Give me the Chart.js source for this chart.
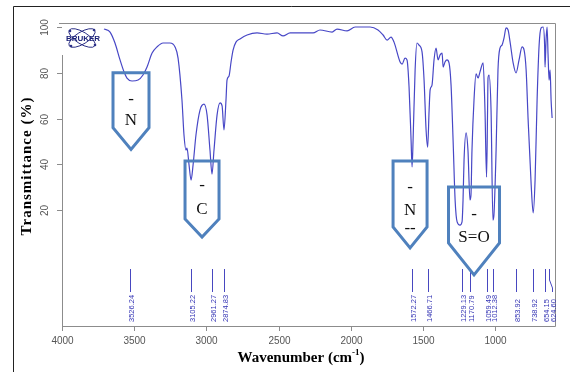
<!DOCTYPE html>
<html>
<head>
<meta charset="utf-8">
<script src="https://cdn.jsdelivr.net/npm/chart.js@4.4.0/dist/chart.umd.min.js"></script>
<style>
  html, body { margin: 0; padding: 0; background: #fff; }
  #wrap { width: 570px; height: 372px; position: relative; }
</style>
</head>
<body>
<div id="wrap"><canvas id="irChart" width="570" height="372"></canvas></div>
<script>
// spectrum (cm-1 / %T)
const wavenumbers = [
  3709, 3667, 3633, 3598, 3570, 3550, 3515, 3473, 3439, 3411,
  3376, 3342, 3300, 3252, 3217, 3196, 3169, 3155, 3141, 3134,
  3120, 3106, 3092, 3072, 3044, 3016, 2995, 2975, 2961, 2947,
  2926, 2905, 2891, 2878, 2864, 2857, 2843, 2829, 2815, 2795,
  2767, 2718, 2649, 2580, 2510, 2469, 2420, 2351, 2261, 2213,
  2129, 2095, 2025, 1970, 1866, 1811, 1776, 1748, 1721, 1700,
  1658, 1644, 1624, 1610, 1596, 1582, 1575, 1568, 1554, 1541,
  1527, 1506, 1492, 1478, 1467, 1457, 1450, 1437, 1423, 1409,
  1395, 1381, 1367, 1360, 1347, 1333, 1319, 1305, 1291, 1277,
  1263, 1243, 1229, 1222, 1215, 1201, 1188, 1174, 1167, 1160,
  1146, 1132, 1118, 1105, 1083, 1070, 1059, 1052, 1049, 1042,
  1028, 1015, 1008, 993, 980, 966, 952, 938, 924, 910,
  896, 875, 855, 834, 813, 799, 785, 771, 750, 736,
  723, 709, 695, 681, 667, 657, 654, 647, 640, 633,
  626, 619, 612, 605
];
const transmittance = [
  99.1, 97.8, 93.0, 85.6, 80.3, 77.7, 76.4, 76.8, 79.0, 82.5,
  88.6, 91.3, 93.0, 93.0, 91.3, 86.4, 68.1, 52.8, 46.2, 47.1,
  39.7, 33.1, 39.7, 52.8, 63.7, 66.3, 61.5, 46.2, 35.7, 46.2,
  61.5, 66.8, 65.5, 55.0, 68.1, 76.8, 78.6, 84.7, 89.9, 93.4,
  94.8, 96.5, 97.4, 96.9, 97.4, 96.1, 97.4, 97.4, 97.4, 98.7,
  97.8, 99.1, 98.3, 100, 100, 98.7, 96.5, 94.3, 95.6, 93.4,
  84.7, 83.8, 86.4, 85.6, 73.8, 50.6, 38.8, 50.6, 81.2, 93.0,
  92.1, 89.1, 76.8, 55.0, 47.5, 63.7, 72.5, 74.6, 85.6, 90.8,
  85.6, 87.8, 88.6, 82.5, 84.7, 85.6, 84.3, 74.6, 50.6, 24.4,
  14.8, 13.4, 14.8, 24.4, 41.9, 53.7, 46.2, 24.4, 26.6, 46.2,
  68.1, 79.5, 77.7, 80.3, 84.3, 63.7, 34.4, 63.7, 77.7, 79.0,
  63.7, 15.6, 17.8, 46.2, 81.2, 90.8, 92.1, 95.2, 99.6, 98.7,
  93.4, 84.3, 79.9, 85.6, 91.3, 89.9, 81.2, 59.3, 30.9, 18.7,
  33.1, 68.1, 92.1, 99.6, 100, 92.1, 82.5, 94.3, 100, 87.8,
  76.8, 81.2, 68.0, 60.2
];

const peakPositions = [3526.24, 3105.22, 2961.27, 2874.83, 1572.27, 1466.71, 1229.13,
  1170.79, 1059.49, 1012.38, 853.92, 738.92, 654.15, 624.60];
const peakLabels = ['3526.24', '3105.22', '2961.27', '2874.83', '1572.27', '1466.71', '1229.13',
  '1170.79', '1059.49', '1012.38', '853.92', '738.92', '654.15', '624.60'];

const xTicks = [4000, 3500, 3000, 2500, 2000, 1500, 1000];
const yTicks = [100, 80, 60, 40, 20];

const bandTexts = [['-', 'N'], ['-', 'C'], ['-', 'N', '--'], ['-', 'S=O']];

// callout boxes: centre wavenumber, top / shoulder / tip in %T, half width px
const boxes = [
  { wn: 3522, top: 80, side: 56, tip: 46.5, hw: 18, dy: [27, 48] },
  { wn: 3030, top: 41.4, side: 16.1, tip: 8.2, hw: 17, dy: [24, 48] },
  { wn: 1589, top: 41.4, side: 12.6, tip: 3.4, hw: 17, dy: [26, 49, 67] },
  { wn: 1146, top: 30.1, side: 5.6, tip: -8.4, hw: 25.5, dy: [28, 51] }
];

const points = wavenumbers.map((w, i) => ({ x: w, y: transmittance[i] }));

const irDecor = {
  id: 'irDecor',
  beforeDatasetsDraw(chart) {
    const { ctx, chartArea: a, scales: { x, y } } = chart;
    ctx.save();

    // outer border of the figure
    ctx.strokeStyle = '#222';
    ctx.lineWidth = 1;
    ctx.beginPath();
    ctx.moveTo(570, 6.5); ctx.lineTo(13.5, 6.5); ctx.lineTo(13.5, 372);
    ctx.stroke();

    // plot frame
    ctx.strokeStyle = '#8c8c8c';
    ctx.beginPath();
    ctx.moveTo(59, a.top + 0.5);
    ctx.lineTo(a.right + 0.5, a.top + 0.5);
    ctx.lineTo(a.right + 0.5, a.bottom + 0.5);
    ctx.lineTo(a.left + 0.5, a.bottom + 0.5);
    ctx.lineTo(a.left + 0.5, 55);
    ctx.stroke();

    // y ticks
    ctx.fillStyle = '#555';
    ctx.font = '10px "Liberation Sans", Arial, sans-serif';
    yTicks.forEach(v => {
      const py = Math.round(y.getPixelForValue(v)) + 0.5;
      ctx.beginPath();
      ctx.moveTo(a.left - 5, py); ctx.lineTo(a.left, py);
      ctx.stroke();
      ctx.save();
      ctx.translate(45, py);
      ctx.rotate(-Math.PI / 2);
      ctx.textAlign = 'center';
      ctx.textBaseline = 'middle';
      ctx.fillText(String(v), 0, 0);
      ctx.restore();
    });

    // x ticks
    ctx.textAlign = 'center';
    ctx.textBaseline = 'middle';
    xTicks.forEach(v => {
      const px = Math.round(x.getPixelForValue(v)) + 0.5;
      ctx.beginPath();
      ctx.moveTo(px, a.bottom); ctx.lineTo(px, a.bottom + 5);
      ctx.stroke();
      ctx.fillText(String(v), px, 341);
    });

    // peak markers
    ctx.strokeStyle = '#4848c0';
    ctx.fillStyle = '#3434b4';
    ctx.font = '7.5px "Liberation Sans", Arial, sans-serif';
    let prevLabelX = -100;
    peakPositions.forEach((p, i) => {
      const px = Math.round(x.getPixelForValue(p)) + 0.5;
      let lx = px;
      if (lx - prevLabelX < 6) lx = prevLabelX + 7;
      ctx.beginPath();
      ctx.moveTo(px, a.bottom - 57);
      if (lx !== px) {
        ctx.lineTo(px, a.bottom - 46);
        ctx.lineTo(lx, a.bottom - 38);
      }
      ctx.lineTo(lx, a.bottom - 34);
      ctx.stroke();
      ctx.save();
      ctx.translate(lx + 3, a.bottom - 4);
      ctx.rotate(-Math.PI / 2);
      ctx.textAlign = 'left';
      ctx.textBaseline = 'alphabetic';
      ctx.fillText(peakLabels[i], 0, 0);
      ctx.restore();
      prevLabelX = lx;
    });

    // axis titles
    ctx.fillStyle = '#000';
    ctx.font = 'bold 15px "Liberation Serif", "Times New Roman", serif';
    ctx.save();
    ctx.translate(27.5, 166);
    ctx.rotate(-Math.PI / 2);
    ctx.letterSpacing = '1px';
    ctx.textAlign = 'center';
    ctx.textBaseline = 'middle';
    ctx.fillText('Transmittance (%)', 0, 0);
    ctx.restore();

    const t1 = 'Wavenumber (cm', sup = '-1', t2 = ')';
    ctx.textBaseline = 'alphabetic';
    ctx.textAlign = 'left';
    const w1 = ctx.measureText(t1).width;
    ctx.font = 'bold 9px "Liberation Serif", "Times New Roman", serif';
    const ws = ctx.measureText(sup).width;
    ctx.font = 'bold 15px "Liberation Serif", "Times New Roman", serif';
    const w2 = ctx.measureText(t2).width;
    let sx = 301 - (w1 + ws + w2) / 2;
    ctx.fillText(t1, sx, 362);
    ctx.font = 'bold 9px "Liberation Serif", "Times New Roman", serif';
    ctx.fillText(sup, sx + w1, 355);
    ctx.font = 'bold 15px "Liberation Serif", "Times New Roman", serif';
    ctx.fillText(t2, sx + w1 + ws, 362);

    ctx.restore();
  },
  afterDatasetsDraw(chart) {
    const { ctx, scales: { x, y } } = chart;
    ctx.save();

    // Bruker logo
    ctx.fillStyle = '#fff';
    ctx.fillRect(63, 24, 40, 30);
    ctx.strokeStyle = '#2b2f86';
    ctx.lineWidth = 1;
    [-0.55, 0.55].forEach(r => {
      ctx.beginPath();
      ctx.ellipse(82, 38, 15, 6, r, 0, Math.PI * 2);
      ctx.stroke();
    });
    ctx.fillStyle = '#2b2f86';
    [[70, 31], [95, 45], [71, 46], [94, 30]].forEach(([cx, cy]) => {
      ctx.beginPath(); ctx.arc(cx, cy, 1.3, 0, Math.PI * 2); ctx.fill();
    });
    ctx.fillStyle = '#1c2278';
    ctx.font = 'bold 8px "Liberation Sans", Arial, sans-serif';
    ctx.textAlign = 'center';
    ctx.textBaseline = 'middle';
    ctx.fillText('BRUKER', 83, 39);

    // callout boxes
    ctx.strokeStyle = '#4f81bd';
    ctx.lineWidth = 3;
    ctx.lineJoin = 'miter';
    boxes.forEach((b, i) => {
      const cx = x.getPixelForValue(b.wn);
      const top = y.getPixelForValue(b.top);
      const side = y.getPixelForValue(b.side);
      const tip = y.getPixelForValue(b.tip);
      ctx.beginPath();
      ctx.moveTo(cx - b.hw, top);
      ctx.lineTo(cx + b.hw, top);
      ctx.lineTo(cx + b.hw, side);
      ctx.lineTo(cx, tip);
      ctx.lineTo(cx - b.hw, side);
      ctx.closePath();
      ctx.stroke();
      ctx.fillStyle = '#111';
      ctx.font = '17px "Liberation Serif", "Times New Roman", serif';
      ctx.textAlign = 'center';
      ctx.textBaseline = 'middle';
      bandTexts[i].forEach((t, k) => ctx.fillText(t, cx, top + b.dy[k]));
    });
    ctx.restore();
  }
};

new Chart(document.getElementById('irChart'), {
  type: 'line',
  data: {
    datasets: [{
      data: points,
      borderColor: '#4747c6',
      borderWidth: 1.2,
      pointRadius: 0,
      fill: false,
      cubicInterpolationMode: 'monotone'
    }]
  },
  options: {
    responsive: false,
    animation: false,
    events: [],
    layout: { padding: { left: 62, top: 23, right: 15, bottom: 46 } },
    scales: {
      x: { type: 'linear', reverse: true, min: 585, max: 4000, display: false },
      y: { type: 'linear', min: -30.71, max: 101.75, display: false }
    },
    plugins: { legend: { display: false }, tooltip: { enabled: false } }
  },
  plugins: [irDecor]
});
</script>
</body>
</html>
